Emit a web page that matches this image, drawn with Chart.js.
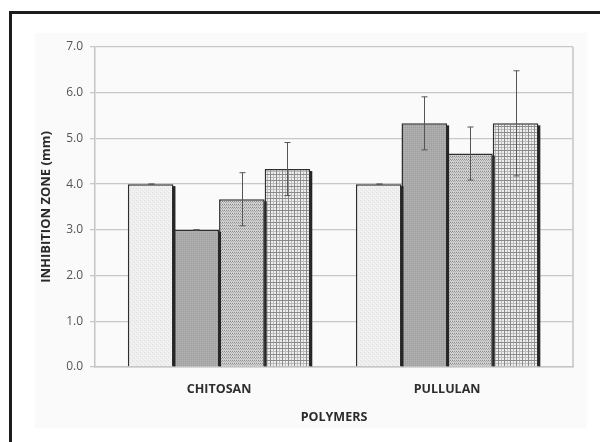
<!DOCTYPE html>
<html>
<head>
<meta charset="utf-8">
<script src="https://cdn.jsdelivr.net/npm/chart.js@4/dist/chart.umd.min.js"></script>
<style>
  html, body { margin: 0; padding: 0; background: #ffffff; }
  #wrap { width: 600px; height: 442px; position: relative; overflow: hidden; }
  canvas { display: block; }
</style>
</head>
<body>
<div id="wrap"><canvas id="c" width="600" height="442"></canvas></div>
<script>
// ---- data ----
const categories = ['CHITOSAN', 'PULLULAN'];
const series1 = [4.00, 4.00];
const series2 = [3.00, 5.33];
const series3 = [3.67, 4.67];
const series4 = [4.33, 5.33];
const errors1 = [0.00, 0.00];
const errors2 = [0.00, 0.58];
const errors3 = [0.58, 0.58];
const errors4 = [0.58, 1.15];
const yTicks = [0, 1, 2, 3, 4, 5, 6, 7];
const yTitle = 'INHIBITION ZONE (mm)';
const xTitle = 'POLYMERS';

// ---- patterns ----
function makePattern(w, h, draw) {
  const c = document.createElement('canvas');
  c.width = w; c.height = h;
  const x = c.getContext('2d');
  draw(x);
  return x.createPattern(c, 'repeat');
}
function px(x, col, i, j) { x.fillStyle = col; x.fillRect(i, j, 1, 1); }

const pat1 = makePattern(4, 4, x => {
  x.fillStyle = '#eeeeee'; x.fillRect(0, 0, 4, 4);
  px(x, '#e0e0e0', 0, 0); px(x, '#e3e3e3', 2, 2); px(x, '#f7f7f7', 1, 3); px(x, '#f5f5f5', 3, 1);
});
const pat2 = makePattern(2, 2, x => {
  x.fillStyle = '#a9a9a9'; x.fillRect(0, 0, 2, 2);
  px(x, '#b3b3b3', 0, 0); px(x, '#9f9f9f', 1, 1);
});
const pat3 = makePattern(4, 3, x => {
  x.fillStyle = '#d4d4d4'; x.fillRect(0, 0, 4, 3);
  px(x, '#8c8c8c', 0, 0); px(x, '#8c8c8c', 2, 0);
  px(x, '#a8a8a8', 1, 1); px(x, '#a8a8a8', 3, 1);
  px(x, '#c4c4c4', 0, 2); px(x, '#c4c4c4', 2, 2);
});
const pat4 = makePattern(6, 6, x => {
  x.fillStyle = '#eeeeee'; x.fillRect(0, 0, 6, 6);
  x.fillStyle = '#bcbcbc'; x.fillRect(3, 0, 1, 6); x.fillRect(0, 3, 6, 1);
  x.fillStyle = '#8a8a8a'; x.fillRect(0, 0, 1, 6); x.fillRect(0, 0, 6, 1);
});

const seriesValues = [series1, series2, series3, series4];
const seriesErrors = [errors1, errors2, errors3, errors4];
const seriesFills = [pat1, pat2, pat3, pat4];

const datasets = seriesValues.map((vals, i) => ({
  label: 'Series ' + (i + 1),
  data: vals,
  backgroundColor: seriesFills[i],
  borderColor: '#2e2e2e',
  borderWidth: 1.5,
  borderSkipped: 'bottom',
  categoryPercentage: 0.8,
  barPercentage: 1.0,
  errors: seriesErrors[i]
}));

// ---- plugins ----
const framePlugin = {
  id: 'frame',
  beforeDraw(chart) {
    const ctx = chart.ctx;
    ctx.save();
    ctx.fillStyle = '#fafafa';
    ctx.fillRect(35, 33, 552, 395);
    ctx.strokeStyle = '#1c1c1c';
    ctx.lineWidth = 3;
    ctx.strokeRect(10.5, 12.5, 700, 600);
    ctx.restore();
  },
  beforeDatasetsDraw(chart) {
    const {ctx, chartArea} = chart;
    ctx.save();
    ctx.strokeStyle = '#c4c4c4';
    ctx.lineWidth = 1.5;
    ctx.beginPath();
    ctx.moveTo(chartArea.right, chartArea.top);
    ctx.lineTo(chartArea.right, chartArea.bottom);
    ctx.stroke();
    ctx.restore();
  }
};

const barExtrasPlugin = {
  id: 'barExtras',
  afterDatasetsDraw(chart) {
    const ctx = chart.ctx;
    const y = chart.scales.y;
    ctx.save();
    chart.data.datasets.forEach((ds, di) => {
      const meta = chart.getDatasetMeta(di);
      meta.data.forEach((bar) => {
        const p = bar.getProps(['x', 'y', 'width', 'base'], true);
        ctx.fillStyle = '#262626';
        ctx.fillRect(p.x + p.width / 2 - 0.5, p.y + 2, 2.5, p.base - p.y - 2);
      });
    });
    ctx.strokeStyle = '#555555';
    ctx.lineWidth = 1;
    chart.data.datasets.forEach((ds, di) => {
      const meta = chart.getDatasetMeta(di);
      meta.data.forEach((bar, i) => {
        const v = ds.data[i];
        const e = ds.errors[i];
        const x = Math.round(bar.x) + 0.5;
        const yt = y.getPixelForValue(v + e);
        const yb = y.getPixelForValue(v - e);
        ctx.beginPath();
        ctx.moveTo(x, yt); ctx.lineTo(x, yb);
        ctx.moveTo(x - 3, yt); ctx.lineTo(x + 3, yt);
        ctx.moveTo(x - 3, yb); ctx.lineTo(x + 3, yb);
        ctx.stroke();
      });
    });
    ctx.restore();
  }
};

const FONT = '"Open Sans", "DejaVu Sans", sans-serif';

new Chart(document.getElementById('c'), {
  type: 'bar',
  data: { labels: categories, datasets },
  plugins: [framePlugin, barExtrasPlugin],
  options: {
    responsive: false,
    animation: false,
    devicePixelRatio: 1,
    layout: { padding: { left: 33, top: 47, right: 27, bottom: 15 } },
    plugins: { legend: { display: false }, tooltip: { enabled: false } },
    scales: {
      x: {
        type: 'category',
        offset: true,
        grid: { display: false },
        border: { display: true, color: '#c4c4c4', width: 1.5 },
        ticks: {
          color: '#2e2e2e',
          padding: 7,
          font: { family: FONT, size: 12.5, weight: 'bold' }
        },
        title: {
          display: true,
          text: xTitle,
          color: '#2a2a2a',
          padding: { top: 0, bottom: 2.5 },
          font: { family: FONT, size: 12.5, weight: 'bold' }
        },
        afterFit(scale) { scale.height = 60; },
        afterUpdate(scale) {
          scale._startValue = -0.544;
          scale._valueRange = 2.096;
        }
      },
      y: {
        min: 0,
        max: 7,
        afterBuildTicks(scale) { scale.ticks = yTicks.map(v => ({ value: v })); },
        grid: { color: '#c8c8c8', lineWidth: 1.3, tickLength: 5, drawTicks: true },
        border: { display: true, color: '#c4c4c4', width: 1.5 },
        ticks: {
          color: '#555555',
          padding: 7,
          font: { family: FONT, size: 12 },
          callback: (v) => Number(v).toFixed(1)
        },
        title: {
          display: true,
          text: yTitle,
          color: '#2a2a2a',
          padding: { top: 5, bottom: 0 },
          font: { family: FONT, size: 13, weight: 'bold' }
        },
        afterFit(scale) { scale.width = 62; }
      }
    }
  }
});
</script>
</body>
</html>
